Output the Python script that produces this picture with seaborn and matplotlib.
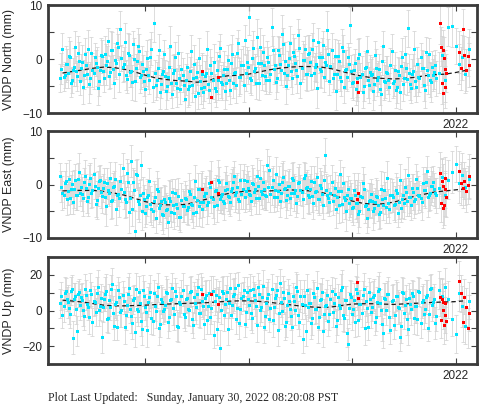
import matplotlib
matplotlib.use("Agg")
import matplotlib.pyplot as plt
from matplotlib.ticker import MultipleLocator, FixedLocator, FixedFormatter
import seaborn as sns

# solution epochs (decimal year), final solutions, first set
epoch = [
    2018.18, 2018.20, 2018.22, 2018.24, 2018.26, 2018.28, 2018.30, 2018.32, 2018.34, 2018.36,
    2018.38, 2018.40, 2018.42, 2018.44, 2018.46, 2018.48, 2018.50, 2018.52, 2018.54, 2018.56,
    2018.58, 2018.60, 2018.62, 2018.64, 2018.66, 2018.68, 2018.70, 2018.72, 2018.74, 2018.76,
    2018.78, 2018.80, 2018.82, 2018.84, 2018.86, 2018.88, 2018.90, 2018.92, 2018.94, 2018.96,
    2018.98, 2019.00, 2019.02, 2019.04, 2019.06, 2019.08, 2019.10, 2019.12, 2019.14, 2019.16,
    2019.18, 2019.20, 2019.22, 2019.24, 2019.26, 2019.28, 2019.30, 2019.32, 2019.34, 2019.36,
    2019.38, 2019.40, 2019.42, 2019.44, 2019.46, 2019.48, 2019.50, 2019.52, 2019.54, 2019.56,
    2019.58, 2019.60, 2019.62, 2019.64, 2019.66, 2019.68, 2019.70, 2019.72, 2019.74, 2019.76,
    2019.78, 2019.80, 2019.82, 2019.84, 2019.86, 2019.88, 2019.90, 2019.92, 2019.94, 2019.96,
    2019.98, 2020.00, 2020.02, 2020.04, 2020.06, 2020.08, 2020.10, 2020.12, 2020.14, 2020.16,
    2020.18, 2020.20, 2020.22, 2020.24, 2020.26, 2020.28, 2020.30, 2020.32, 2020.34, 2020.36,
    2020.38, 2020.40, 2020.42, 2020.44, 2020.46, 2020.48, 2020.50, 2020.52, 2020.54, 2020.56,
    2020.58, 2020.60, 2020.62, 2020.64, 2020.66, 2020.68, 2020.70, 2020.72, 2020.74, 2020.76,
    2020.78, 2020.80, 2020.82, 2020.84, 2020.86, 2020.88, 2020.90, 2020.92, 2020.94, 2020.96,
    2020.98, 2021.00, 2021.02, 2021.04, 2021.06, 2021.08, 2021.10, 2021.12, 2021.14, 2021.16,
    2021.18, 2021.20, 2021.22, 2021.24, 2021.26, 2021.28, 2021.30, 2021.32, 2021.34, 2021.36,
    2021.38, 2021.40, 2021.42, 2021.44, 2021.46, 2021.48, 2021.50, 2021.52, 2021.54, 2021.56,
    2021.58, 2021.60, 2021.62, 2021.64, 2021.66, 2021.68, 2021.70, 2021.72, 2021.74, 2021.76,
    2021.78, 2021.80,
    2021.84, 2021.87, 2021.90, 2021.93, 2021.96, 2022.00, 2022.03, 2022.06, 2022.09, 2022.13,
]

north = [
    -3.5, 1.8, -2.9, -1.0, 0.6, -4.4, -2.1, 2.2, -3.2, -0.4,
    -1.6, -5.1, 0.9, -2.8, -4.6, 1.2, -2.5, -0.8, -5.3, -2.1,
    0.5, -3.6, -1.1, 3.3, -2.4, 1.6, -4.5, -0.7, 2.3, 5.6,
    -1.4, 3.1, -3.7, 0.8, -2.2, 2.7, -4.1, -0.3, 1.4, -3.0,
    -2.2, -5.5, 0.1, -3.9, 1.9, 6.7, -4.8, -1.6, -6.1, -2.7,
    0.9, -5.9, -3.3, 2.4, -6.5, -2.0, -4.4, 1.1, -5.6, -3.0,
    -7.4, -1.5, -5.0, 1.5, -3.6, -6.8, -2.4, 0.2, -5.4, -6.2,
    -3.1, 1.8, -5.7, -2.6, -0.5, -6.0, -3.9, 2.1, -4.7, -1.8,
    -4.4, -0.2, -5.8, 0.9, -2.5, -4.9, 2.9, -3.4, -1.2, 3.6,
    -0.6, 7.8, -3.9, 2.1, -1.6, 4.0, -4.5, -0.8, 1.3, -3.2,
    0.4, -3.8, 6.0, -1.9, -4.2, 1.6, -0.9, 4.6, -2.6, -5.0,
    -1.2, 3.0, -3.6, 0.5, -2.0, 4.4, -4.4, -0.2, 1.9, -2.8,
    1.1, -3.0, 3.6, -1.4, -5.3, 0.3, -2.2, 2.6, -0.6, 5.4,
    -4.0, 1.7, -2.7, -6.0, 0.6, -3.3, 2.2, -5.2, -1.9, 0.4,
    6.3, -4.5, -2.1, -5.6, 0.2, -3.4, -6.1, -1.7, 1.4, -4.8,
    -2.9, -5.9, 0.8, -3.8, -1.9, -6.4, 2.5, -4.2, -2.6, -5.1,
    1.5, -4.0, -5.7, -2.3, -6.2, 0.3, -3.5, -1.6, 5.7, -4.6,
    -2.7, 1.9, -5.1, -3.4, 0.4, -1.6, -5.8, -2.1, 0.9, -4.3,
    -3.0, -1.2,
    -2.5, 0.7, -3.9, 6.0, 6.1, 2.4, -1.0, 0.3, -2.8, 1.8,
]

east = [
    1.5, -1.6, 0.2, -2.8, 1.1, -0.9, -3.3, 0.8, -1.9, 2.3,
    -0.5, -2.6, 1.6, -3.0, 0.1, -1.5, 2.0, -3.6, -0.7, 0.9,
    -2.2, 0.4, -4.0, -1.1, 1.3, -2.9, -0.2, -4.6, -1.7, 0.6,
    3.0, -2.8, 2.1, -5.2, 4.4, 0.5, -8.6, 1.8, -3.7, 3.6,
    -1.6, -5.3, -2.4, 0.6, -4.5, -3.0, -6.2, -1.2, -3.9, -5.6,
    -2.7, -4.8, -7.0, -3.1, -1.4, -5.3, -3.6, -2.2, -6.1, -4.0,
    -2.5, -4.7, -1.3, -3.6, -5.4, 0.6, -2.9, -4.1, -0.8, -3.2,
    -1.5, -3.9, 0.2, -2.3, -4.0, -1.0, 0.9, -2.8, -1.8, -3.4,
    0.3, -2.1, -3.3, -0.6, 1.5, -1.4, -2.8, 0.8, -0.9, -2.4,
    0.6, -1.7, -3.0, 0.1, -0.9, 1.6, -2.5, -1.3, 0.4, -2.0,
    3.6, 2.7, -0.4, -2.4, 1.9, -1.2, -3.1, 0.5, -0.8, -2.9,
    -0.2, -2.6, 1.2, -1.5, -3.4, 0.3, -1.0, -2.7, 1.7, -0.5,
    -2.3, 0.6, -3.5, -1.4, 1.4, -2.8, -0.6, -3.9, 5.5, -1.9,
    -3.3, 0.4, -2.0, -4.6, -1.2, 1.9, -3.7, -2.4, -5.0, -0.9,
    -2.6, -4.4, -1.0, -3.5, -5.6, -2.2, 0.3, -4.0, -6.2, -3.0,
    -1.8, -4.9, -3.2, -2.3, -5.5, -0.9, -3.9, -2.6, 1.2, -4.6,
    -2.0, -3.8, -1.1, -5.3, 0.9, -2.8, -3.5, -1.4, 1.8, -2.4,
    -0.7, -3.0, 1.0, -1.9, -2.6, 0.2, -1.1, 2.6, -2.0, -0.3,
    0.5, -1.6,
    -0.6, 1.4, -1.9, 0.9, 2.4, 3.8, 0.2, 1.7, -0.4, 1.0,
]

up = [
    4.1, -2.3, 9.8, 6.5, 1.2, 11.0, -15.2, 8.2, -11.4, 10.6,
    7.3, 0.5, 12.2, 3.9, -3.6, 9.1, 5.5, -1.0, 13.4, 2.7,
    -14.8, 6.6, 10.7, -4.2, 1.8, 14.9, -8.8, 4.5, 11.6, -0.8,
    8.9, -9.5, 3.2, 12.5, -2.9, 6.0, -12.0, 0.6, 10.1, -5.7,
    11.3, 2.1, -11.0, 7.4, -4.0, 9.9, -0.5, 13.1, -7.3, 4.6,
    1.0, 10.4, -6.2, 5.7, 12.8, -1.9, 8.0, -9.2, 3.4, 11.7,
    -3.5, 6.9, 0.2, 10.8, -8.0, 4.3, 9.3, -1.4, 12.0, 2.6,
    7.1, -5.1, 10.0, 1.4, -13.5, 8.6, 3.8, -21.0, 11.2, -2.8,
    6.4, -10.3, 12.7, 2.9, 9.0, -4.6, 14.2, 0.8, 7.9, -7.5,
    10.5, 3.1, -1.5, 12.3, 5.9, -8.4, 9.4, 1.7, 13.8, -3.0,
    6.8, -4.8, 11.9, 2.2, 8.5, -10.8, 15.5, 0.0, 7.2, -6.4,
    10.0, 1.1, -9.0, 5.6, 13.0, -2.5, 8.1, -15.8, 3.0, 11.4,
    4.4, -6.9, 9.7, 0.9, 12.4, -3.8, 6.2, -11.6, 2.8, 8.8,
    -1.7, 10.9, 4.0, -8.6, 7.5, 1.3, 13.3, -4.4, 5.8, -18.8,
    9.5, -2.2, 6.1, 11.8, -5.3, 3.5, 8.7, -9.8, 1.6, 10.3,
    -0.9, 7.6, -6.6, 4.9, 12.1, 0.4, -12.7, 6.3, 9.2, -3.7,
    5.2, -8.3, 8.4, 1.9, -14.6, 10.6, -1.2, 6.7, -10.5, 3.7,
    9.6, -4.1, 2.4, 11.2, -6.8, 6.0, 0.7, 8.9, -2.0, 12.6,
    4.8, -7.0,
    11.5, 8.3, 13.0, 6.2, -4.9, -13.2, 9.9, 2.3, -8.7, 5.4,
]

# 1-sigma uncertainties, horizontal (N/E) and vertical
sig_h = [
    2.6, 3.1, 2.4, 2.9, 3.4, 2.7, 2.2, 3.0, 2.8, 3.5,
    2.5, 3.2, 2.9, 2.3, 3.6, 2.8, 3.0, 2.4, 3.3, 2.7,
    3.1, 2.6, 3.8, 2.5, 2.9, 3.4, 2.7, 3.0, 2.4, 3.2,
    2.8, 3.5, 2.6, 3.9, 3.0, 2.5, 3.7, 2.9, 3.3, 2.6,
    3.0, 2.7, 3.4, 2.5, 3.1, 3.6, 2.8, 2.4, 3.2, 2.9,
    2.6, 3.3, 2.9, 3.7, 2.5, 3.0, 2.7, 3.4, 2.8, 3.1,
    3.2, 2.6, 3.5, 2.9, 2.7, 3.1, 2.4, 3.6, 3.0, 2.8,
    2.7, 3.4, 2.5, 3.0, 3.3, 2.8, 3.6, 2.6, 2.9, 3.2,
    3.1, 2.8, 2.6, 3.5, 2.9, 3.2, 2.5, 3.0, 3.7, 2.7,
    2.9, 3.3, 2.7, 3.0, 2.6, 3.4, 3.1, 2.5, 3.2, 2.8,
    3.0, 2.6, 3.5, 2.8, 3.2, 2.7, 3.0, 3.6, 2.5, 3.3,
    2.7, 3.1, 2.9, 3.4, 2.6, 3.0, 2.8, 3.5, 2.4, 3.2,
    3.3, 2.8, 3.0, 2.6, 3.7, 2.9, 3.2, 2.5, 3.1, 3.4,
    2.6, 3.2, 2.8, 3.5, 3.0, 2.7, 3.3, 2.9, 3.6, 2.5,
    3.4, 2.7, 3.1, 2.9, 3.5, 2.6, 3.0, 3.2, 2.8, 3.3,
    2.9, 3.6, 2.5, 3.1, 2.8, 3.4, 2.7, 3.0, 3.2, 2.6,
    3.1, 2.8, 3.3, 2.6, 3.0, 3.5, 2.9, 2.7, 3.4, 3.0,
    2.7, 3.2, 2.9, 3.5, 2.6, 3.1, 3.3, 2.8, 3.0, 3.6,
    3.0, 2.8,
    3.8, 3.5, 4.0, 3.6, 3.9, 3.4, 3.7, 4.1, 3.5, 3.8,
]

sig_u = [
    8.2, 7.5, 9.1, 6.8, 8.7, 7.9, 9.4, 7.2, 8.5, 6.9,
    7.7, 9.0, 8.1, 7.3, 9.6, 6.7, 8.4, 7.8, 9.2, 8.0,
    8.8, 7.1, 9.5, 8.3, 6.9, 8.9, 7.6, 9.8, 7.4, 8.6,
    7.9, 9.3, 7.0, 8.5, 9.7, 7.7, 8.2, 6.8, 9.0, 8.4,
    8.6, 7.4, 9.2, 7.8, 8.9, 7.2, 9.5, 8.1, 7.6, 8.7,
    7.3, 8.8, 9.4, 7.5, 8.0, 9.1, 7.7, 8.5, 6.9, 9.3,
    8.1, 7.6, 9.0, 8.4, 7.2, 9.6, 8.3, 7.8, 9.2, 7.4,
    9.5, 8.0, 7.3, 8.9, 7.7, 9.1, 8.2, 9.9, 7.5, 8.6,
    7.8, 9.3, 8.4, 7.1, 9.0, 8.7, 7.4, 9.4, 8.0, 7.6,
    8.5, 7.9, 9.2, 7.3, 8.8, 9.5, 7.6, 8.1, 9.0, 7.7,
    9.1, 7.5, 8.3, 9.6, 7.2, 8.9, 8.0, 7.8, 9.3, 8.4,
    7.6, 8.8, 9.4, 7.4, 8.6, 7.9, 9.1, 8.2, 7.7, 9.0,
    8.3, 9.2, 7.5, 8.7, 9.8, 7.3, 8.5, 9.0, 7.8, 8.1,
    9.0, 7.7, 8.4, 9.3, 7.4, 8.8, 9.6, 7.9, 8.2, 9.1,
    7.8, 8.6, 9.3, 7.5, 8.9, 8.1, 7.6, 9.4, 8.3, 7.9,
    8.7, 9.1, 7.4, 8.2, 9.5, 7.8, 8.6, 9.0, 7.3, 8.8,
    9.2, 7.6, 8.5, 9.7, 7.9, 8.3, 9.0, 7.5, 8.8, 8.1,
    7.7, 8.9, 9.3, 7.4, 8.6, 9.1, 7.8, 8.4, 9.5, 8.0,
    8.3, 9.0,
    10.5, 9.8, 11.0, 10.2, 9.6, 10.8, 10.0, 11.3, 9.9, 10.4,
]

# final solutions, second (interleaved) set
epoch2 = [
    2018.19, 2018.21, 2018.23, 2018.25, 2018.27, 2018.29, 2018.31, 2018.33, 2018.35, 2018.37,
    2018.39, 2018.41, 2018.43, 2018.45, 2018.47, 2018.49, 2018.51, 2018.53, 2018.55, 2018.57,
    2018.59, 2018.61, 2018.63, 2018.65, 2018.67, 2018.69, 2018.71, 2018.73, 2018.75, 2018.77,
    2018.79, 2018.81, 2018.83, 2018.85, 2018.87, 2018.89, 2018.91, 2018.93, 2018.95, 2018.97,
    2018.99, 2019.01, 2019.03, 2019.05, 2019.07, 2019.09, 2019.11, 2019.13, 2019.15, 2019.17,
    2019.19, 2019.21, 2019.23, 2019.25, 2019.27, 2019.29, 2019.31, 2019.33, 2019.35, 2019.37,
    2019.39, 2019.41, 2019.43, 2019.45, 2019.47, 2019.49, 2019.51, 2019.53, 2019.55, 2019.57,
    2019.59, 2019.61, 2019.63, 2019.65, 2019.67, 2019.69, 2019.71, 2019.73, 2019.75, 2019.77,
    2019.79, 2019.81, 2019.83, 2019.85, 2019.87, 2019.89, 2019.91, 2019.93, 2019.95, 2019.97,
    2019.99, 2020.01, 2020.03, 2020.05, 2020.07, 2020.09, 2020.11, 2020.13, 2020.15, 2020.17,
    2020.19, 2020.21, 2020.23, 2020.25, 2020.27, 2020.29, 2020.31, 2020.33, 2020.35, 2020.37,
    2020.39, 2020.41, 2020.43, 2020.45, 2020.47, 2020.49, 2020.51, 2020.53, 2020.55, 2020.57,
    2020.59, 2020.61, 2020.63, 2020.65, 2020.67, 2020.69, 2020.71, 2020.73, 2020.75, 2020.77,
    2020.79, 2020.81, 2020.83, 2020.85, 2020.87, 2020.89, 2020.91, 2020.93, 2020.95, 2020.97,
    2020.99, 2021.01, 2021.03, 2021.05, 2021.07, 2021.09, 2021.11, 2021.13, 2021.15, 2021.17,
    2021.19, 2021.21, 2021.23, 2021.25, 2021.27, 2021.29, 2021.31, 2021.33, 2021.35, 2021.37,
    2021.39, 2021.41, 2021.43, 2021.45, 2021.47, 2021.49, 2021.51, 2021.53, 2021.55, 2021.57,
    2021.59, 2021.61, 2021.63, 2021.65, 2021.67, 2021.69, 2021.71, 2021.73, 2021.75, 2021.77,
    2021.79, 2021.81,
]

north2 = [
    -1.8, -3.4, -0.9, -2.6, 0.4, -3.9, -1.5, -2.2, 1.1, -4.0,
    -0.6, -2.9, -1.2, 1.9, -3.5, -2.0, 0.3, -1.4, -4.1, 0.8,
    -2.3, 0.9, -0.4, -3.1, 1.7, -1.9, -0.2, 2.9, -2.8, 0.2,
    -0.9, -3.0, 1.2, -2.4, -4.3, 0.0, -1.6, 2.4, -3.4, -1.0,
    -4.1, -1.8, -3.0, 0.3, -5.1, -2.6, -3.8, 1.6, -4.6, -2.2,
    -3.2, -5.0, -1.4, -4.4, -2.5, 0.4, -5.4, -3.6, -1.8, -4.9,
    -3.8, -5.6, -2.2, -4.9, -0.9, -3.3, -6.3, -4.0, -2.7, -5.2,
    -2.5, -4.6, -1.2, -3.9, -5.3, -2.0, 0.6, -4.2, -3.0, -5.9,
    -1.9, -3.8, -0.7, -4.5, -2.4, 1.2, -3.3, -1.1, -4.9, -2.6,
    -1.5, -3.6, 0.2, -2.2, -4.4, -0.8, 2.3, -2.9, -1.2, -3.9,
    -0.6, -2.7, 1.6, -1.1, -3.5, 0.7, -2.0, 2.8, -0.3, -2.9,
    0.1, -2.3, 1.3, -0.7, -3.2, 2.1, -1.6, -0.2, -2.8, 0.9,
    -0.5, 1.8, -2.6, -0.9, 3.2, -1.9, 0.4, -3.4, -1.1, 1.0,
    -1.3, -3.5, 0.6, -2.7, -0.4, -4.1, 1.5, -2.0, -3.3, -0.9,
    -2.2, -4.3, -0.8, -3.6, 0.9, -2.7, -5.0, -1.5, -3.9, -2.4,
    -2.8, -4.7, -1.6, -3.3, -5.5, -0.3, -4.1, -2.4, -3.9, -1.2,
    -4.4, -2.1, -5.2, -3.0, -1.3, -4.6, 0.9, -3.7, -2.6, -5.3,
    -2.3, -4.0, -0.9, -3.5, -1.7, -4.8, 1.3, -2.9, -3.8, -1.4,
    -2.4, -3.6,
]

east2 = [
    -0.4, -1.9, 0.7, -1.2, -2.5, 0.1, -0.8, -2.0, 1.0, -1.5,
    -1.8, 0.4, -0.6, -2.4, 1.2, -1.1, -0.2, -2.9, 0.6, -1.4,
    -0.7, -2.3, 0.2, -1.6, -3.0, -0.5, 1.1, -1.9, -2.6, -0.9,
    -1.4, -3.3, 0.4, -2.6, -4.5, -1.0, 1.9, -3.1, -2.0, -5.0,
    -2.7, -4.1, -1.9, -3.6, -5.0, -2.4, -0.8, -4.4, -3.1, -5.7,
    -3.3, -4.6, -2.5, -5.2, -3.8, -1.6, -4.3, -6.0, -2.9, -4.1,
    -2.8, -4.2, -1.7, -3.9, -2.4, -5.1, -0.9, -3.3, -4.5, -2.2,
    -1.6, -3.2, -0.4, -2.7, -1.3, -3.8, 0.5, -2.2, -3.0, -1.0,
    -0.8, -2.4, -1.2, 0.4, -2.0, -0.5, -3.1, -1.7, 0.9, -1.3,
    -0.6, -1.9, 0.3, -1.4, -2.6, -0.2, 1.2, -1.7, -0.9, -2.2,
    -0.4, -1.8, 0.8, -1.1, -2.3, 0.1, -1.5, 1.4, -0.7, -2.0,
    -0.3, -1.6, 0.9, -1.0, -2.2, 0.4, -1.4, 1.3, -0.6, -1.9,
    -0.8, -2.1, 0.5, -1.3, -2.7, -0.1, -1.8, 0.9, -1.0, -2.5,
    -1.6, -3.0, -0.7, -2.4, -3.8, -1.2, 0.2, -2.9, -1.9, -3.4,
    -2.6, -4.2, -1.9, -3.5, -4.9, -2.4, -0.9, -3.8, -4.5, -2.9,
    -3.1, -4.4, -2.2, -3.9, -5.1, -2.7, -1.1, -4.2, -3.4, -2.0,
    -2.4, -3.7, -1.6, -3.2, -4.3, -2.0, -0.4, -3.0, -2.3, -3.9,
    -1.4, -2.7, -0.6, -2.1, -3.2, -1.0, 0.5, -2.4, -1.6, -0.3,
    -0.9, -2.0,
]

up2 = [
    8.1, 2.4, 10.9, 5.0, -1.8, 12.3, 6.7, 0.6, 9.4, 3.3,
    6.0, -3.1, 8.8, 1.9, 11.5, -6.4, 4.7, 9.9, 0.2, 7.1,
    2.0, 9.3, -4.6, 5.8, 12.0, -1.3, 3.9, -9.5, 7.6, 0.4,
    5.5, -2.4, 9.0, 0.9, -7.1, 6.8, 11.9, -0.4, 4.2, -10.3,
    7.9, -1.1, 4.8, 10.5, -5.9, 2.6, 8.4, -9.8, 6.2, 0.0,
    3.1, 9.6, -3.7, 6.4, 1.2, 11.1, -8.5, 4.9, 8.0, -2.2,
    6.6, 0.8, 10.2, -4.9, 7.4, 2.1, 12.9, -1.6, 5.3, -7.7,
    8.7, 2.3, -3.9, 11.0, 5.1, -10.1, 7.8, 0.1, 9.9, 3.6,
    10.3, 4.0, -2.7, 8.2, 12.6, 1.4, -6.8, 6.9, 11.3, -0.6,
    6.2, 11.7, -4.3, 8.6, 2.5, 13.2, 0.3, 7.3, -9.1, 4.4,
    9.2, 1.6, -5.5, 7.0, 11.4, -1.2, 4.6, 10.3, -8.7, 2.9,
    5.3, -2.9, 8.1, 0.5, 10.8, -6.7, 3.6, 7.9, -11.3, 1.8,
    4.1, -4.4, 7.3, 0.6, -9.3, 5.9, 10.1, -1.7, 3.3, -6.1,
    6.5, -0.9, 9.1, -5.6, 3.0, 11.6, -2.4, 5.7, -12.4, 1.5,
    7.5, 0.9, -6.3, 9.7, 3.4, -1.4, 12.1, 5.3, -9.1, 6.6,
    2.1, 8.6, -3.4, 10.9, 4.4, -7.7, 6.9, 0.2, 9.3, -11.0,
    5.9, -2.7, 8.1, 1.5, -8.9, 10.0, 3.2, -4.5, 7.2, 0.6,
    8.3, 2.5, -5.0, 10.4, 4.9, -1.9, 7.6, -9.6, 11.8, 3.0,
    6.3, -3.3,
]

sig_h2 = [
    2.9, 2.5, 3.3, 2.7, 3.0, 2.4, 3.5, 2.8, 3.1, 2.6,
    3.2, 2.7, 2.5, 3.4, 2.9, 3.1, 2.6, 3.6, 2.8, 3.0,
    2.6, 3.3, 2.9, 2.5, 3.5, 2.7, 3.1, 2.8, 3.4, 2.4,
    3.1, 2.8, 3.6, 2.7, 3.2, 3.8, 2.6, 3.3, 2.9, 3.5,
    2.7, 3.2, 2.6, 3.4, 2.9, 2.5, 3.3, 3.0, 2.7, 3.6,
    3.0, 2.6, 3.4, 2.8, 3.2, 2.7, 3.5, 2.5, 3.1, 2.9,
    2.8, 3.3, 2.6, 3.1, 3.5, 2.7, 3.0, 2.9, 3.4, 2.5,
    3.2, 2.7, 3.0, 3.5, 2.6, 3.3, 2.8, 3.1, 2.5, 3.4,
    2.6, 3.1, 3.4, 2.8, 3.2, 2.7, 3.5, 2.9, 3.0, 3.3,
    3.1, 2.7, 3.3, 2.6, 3.0, 2.9, 3.4, 2.8, 3.5, 2.6,
    2.8, 3.4, 2.7, 3.1, 2.6, 3.3, 2.9, 3.0, 3.5, 2.7,
    3.2, 2.8, 3.3, 2.6, 3.1, 3.4, 2.7, 2.9, 3.0, 3.5,
    2.7, 3.1, 2.9, 3.4, 2.6, 3.2, 3.5, 2.8, 3.0, 2.7,
    3.3, 2.7, 3.1, 2.9, 3.4, 2.8, 3.0, 3.6, 2.6, 3.2,
    2.9, 3.3, 2.7, 3.5, 3.0, 3.2, 2.8, 2.6, 3.4, 3.1,
    3.2, 2.8, 3.4, 2.9, 3.1, 2.7, 3.5, 3.0, 2.6, 3.3,
    2.8, 3.4, 3.0, 3.2, 2.7, 3.1, 3.3, 2.9, 3.5, 2.8,
    3.3, 2.9, 3.1, 2.7, 3.4, 3.0, 2.8, 3.6, 3.2, 2.9,
    3.1, 3.3,
]

sig_u2 = [
    7.8, 8.9, 7.3, 9.4, 8.1, 7.6, 9.0, 8.4, 7.2, 8.8,
    9.2, 7.7, 8.5, 7.1, 9.5, 8.0, 7.4, 8.7, 9.1, 7.9,
    8.3, 9.6, 7.5, 8.8, 7.9, 9.3, 8.2, 7.0, 8.6, 9.4,
    7.6, 8.4, 9.7, 7.8, 8.9, 7.3, 9.1, 8.5, 7.7, 9.0,
    8.8, 7.5, 8.2, 9.3, 7.9, 8.6, 7.2, 9.5, 8.1, 7.7,
    9.0, 8.3, 7.6, 8.9, 9.4, 7.4, 8.7, 8.0, 9.2, 7.8,
    7.9, 9.1, 8.4, 7.5, 8.8, 9.6, 7.7, 8.2, 9.0, 8.5,
    8.6, 7.8, 9.3, 8.1, 7.4, 9.0, 8.7, 7.6, 9.4, 8.0,
    9.1, 8.2, 7.7, 9.5, 8.4, 7.9, 9.2, 8.6, 7.5, 8.9,
    7.8, 9.0, 8.3, 7.6, 9.3, 8.1, 8.8, 7.4, 9.1, 8.5,
    8.7, 7.9, 9.4, 8.2, 7.7, 9.0, 8.4, 9.2, 7.6, 8.9,
    9.2, 8.0, 7.5, 8.8, 9.5, 7.8, 8.3, 9.1, 8.6, 7.7,
    8.1, 9.3, 8.7, 7.6, 8.9, 9.4, 7.9, 8.4, 9.0, 8.2,
    7.7, 8.6, 9.2, 8.0, 7.5, 8.9, 9.3, 8.3, 7.8, 9.1,
    8.9, 7.6, 8.4, 9.3, 8.0, 7.8, 9.1, 8.5, 7.7, 9.4,
    8.2, 9.0, 7.9, 8.7, 7.4, 9.2, 8.6, 8.1, 9.5, 7.8,
    9.1, 8.3, 7.7, 8.9, 9.4, 8.0, 7.6, 9.2, 8.5, 8.8,
    8.0, 9.3, 8.6, 7.9, 9.0, 8.4, 9.5, 7.7, 8.2, 9.1,
    8.7, 8.1,
]

# rapid solutions (red)
rapid_epoch = [2019.55, 2019.64, 2019.70, 2021.05, 2021.06, 2021.85, 2021.86,
               2021.87, 2021.88, 2021.88, 2021.89, 2021.90, 2021.90, 2021.91,
               2022.03, 2022.05, 2022.07, 2022.08, 2022.10, 2022.12, 2022.13]
north_rapid = [-2.3, -7.0, -3.3, -4.3, -6.1, 6.6, 2.3, -4.4, 1.7, -6.3, 0.2,
               -1.9, -5.2, -2.6, 1.3, -1.7, 5.5, 0.7, -2.0, 0.5, -1.1]
east_rapid = [-0.8, 0.5, -1.6, -2.7, -1.5, 2.1, -3.5, 0.7, -4.4, -0.2, -3.8,
              -0.9, 1.2, -2.4, 2.5, 0.2, -0.7, 0.7, -1.3, -0.1, 1.6]
up_rapid = [9.1, 9.4, 3.5, 15.8, 6.9, 7.6, -5.3, 6.5, 0.3, 5.0, -8.0,
            -2.5, 4.2, -6.0, 16.7, 9.6, -6.3, 7.6, 1.8, -10.0, -1.4]
sig_h_rapid = [3.4, 3.8, 3.2, 3.5, 3.7, 3.9, 3.6, 4.0, 3.7, 4.1, 3.8,
               3.5, 3.9, 3.6, 3.8, 4.0, 3.7, 3.5, 3.9, 3.6, 4.1]
sig_u_rapid = [9.5, 10.2, 9.8, 10.0, 9.6, 10.8, 10.3, 11.0, 10.5, 9.9, 10.7,
               10.1, 11.2, 10.4, 10.9, 10.2, 11.1, 9.8, 10.6, 11.3, 10.0]

# model fit (dashed)
trend_epoch = [2018.2, 2018.3, 2018.4, 2018.5, 2018.6, 2018.7, 2018.8, 2018.9,
               2019.0, 2019.1, 2019.2, 2019.3, 2019.4, 2019.5, 2019.6, 2019.7, 2019.8, 2019.9,
               2020.0, 2020.1, 2020.2, 2020.3, 2020.4, 2020.5, 2020.6, 2020.7, 2020.8, 2020.9,
               2021.0, 2021.1, 2021.2, 2021.3, 2021.4, 2021.5, 2021.6, 2021.7, 2021.8, 2021.9,
               2022.0, 2022.1]
north_trend = [-2.6, -2.3, -2.0, -1.7, -1.5, -1.6, -1.9, -2.4,
               -3.0, -3.5, -3.8, -4.0, -4.1, -4.3, -4.1, -3.4, -3.1, -3.0,
               -2.8, -2.4, -2.0, -1.7, -1.5, -1.4, -1.4, -1.5, -1.8, -2.3,
               -2.8, -3.2, -3.5, -3.6, -3.7, -3.6, -3.4, -3.1, -2.9, -2.8,
               -2.5, -2.1]
east_trend = [-1.2, -1.1, -1.1, -1.1, -1.3, -1.6, -2.0, -2.6,
              -3.2, -3.6, -3.8, -3.8, -3.7, -3.2, -2.7, -2.1, -1.7, -1.4,
              -1.2, -1.2, -1.2, -1.1, -1.0, -1.1, -1.2, -1.5, -1.9, -2.5,
              -3.1, -3.5, -3.7, -3.6, -3.3, -2.8, -2.2, -1.8, -1.4, -1.2,
              -1.0, -0.8]
up_trend = [5.8, 5.3, 4.7, 3.8, 3.0, 2.6, 2.6, 2.8,
            3.0, 3.3, 3.6, 3.8, 4.0, 4.2, 4.4, 4.8, 5.2, 5.4,
            5.4, 5.1, 4.6, 3.9, 3.2, 2.5, 2.0, 1.7, 2.0, 2.8,
            3.6, 3.8, 3.8, 3.6, 3.4, 3.7, 4.0, 4.3, 4.6, 4.8,
            5.0, 5.5]

year_ticks = [2019, 2020, 2021, 2022]
year_labels = ["", "", "", "2022"]

sns.set_style("ticks")
plt.rcParams["font.family"] = ["Liberation Sans", "DejaVu Sans"]

fig = plt.figure(figsize=(4.81, 4.04), dpi=100)
W, H = 481.0, 404.0
x0, x1 = 48, 477
rows = [(5, 113), (131, 238), (257, 364)]

panels = [
    ("VNDP North (mm)", north, north2, north_rapid, sig_h, sig_h2, sig_h_rapid,
     north_trend, (-10, 10), 10, 5),
    ("VNDP East (mm)", east, east2, east_rapid, sig_h, sig_h2, sig_h_rapid,
     east_trend, (-10, 10), 10, 5),
    ("VNDP Up (mm)", up, up2, up_rapid, sig_u, sig_u2, sig_u_rapid,
     up_trend, (-30, 30), 20, 10),
]

bar_kw = dict(fmt="none", ecolor="#d3d3d3", elinewidth=0.55, capsize=1.5,
              capthick=0.55, zorder=1)
pt_kw = dict(marker="s", s=4.7, linewidth=0, snap=False)

for (top, bot), (label, vals, vals2, rvals, sig, sig2, rsig, trend, ylim, major, minor) in zip(rows, panels):
    ax = fig.add_axes([x0 / W, 1 - bot / H, (x1 - x0) / W, (bot - top) / H])

    ax.errorbar(epoch, vals, yerr=sig, **bar_kw)
    ax.errorbar(epoch2, vals2, yerr=sig2, **bar_kw)
    ax.errorbar(rapid_epoch, rvals, yerr=rsig, **bar_kw)

    sns.lineplot(x=trend_epoch, y=trend, ax=ax, color="#1a1a1a",
                 linewidth=0.9, linestyle=(0, (3.5, 2.5)), zorder=2)
    sns.scatterplot(x=epoch, y=vals, ax=ax, color="#00e5ff", zorder=3, **pt_kw)
    sns.scatterplot(x=epoch2, y=vals2, ax=ax, color="#00e5ff", zorder=3, **pt_kw)
    sns.scatterplot(x=rapid_epoch, y=rvals, ax=ax, color="#ff0000", zorder=4, **pt_kw)

    ax.set_xlim(2018.06, 2022.206)
    ax.set_ylim(*ylim)
    ax.xaxis.set_major_locator(FixedLocator(year_ticks))
    ax.xaxis.set_major_formatter(FixedFormatter(year_labels))
    ax.yaxis.set_major_locator(MultipleLocator(major))
    ax.yaxis.set_minor_locator(MultipleLocator(minor))

    ax.tick_params(which="both", direction="in", top=True, right=True,
                   length=4, width=0.8, color="#404040", labelsize=8.5, pad=4)
    for sp in ax.spines.values():
        sp.set_linewidth(2)
        sp.set_color("#3a3a3a")

    ax.set_ylabel(label, fontsize=9)
    ax.yaxis.set_label_coords(-0.078, 0.5)
    ax.set_xlabel("")

fig.text(x0 / W, 1 - 398 / H, "Plot Last Updated:   Sunday, January 30, 2022 08:20:08 PST",
         family="Liberation Serif", fontsize=8.6, va="center", ha="left")

fig.savefig("out.png", dpi=100)
